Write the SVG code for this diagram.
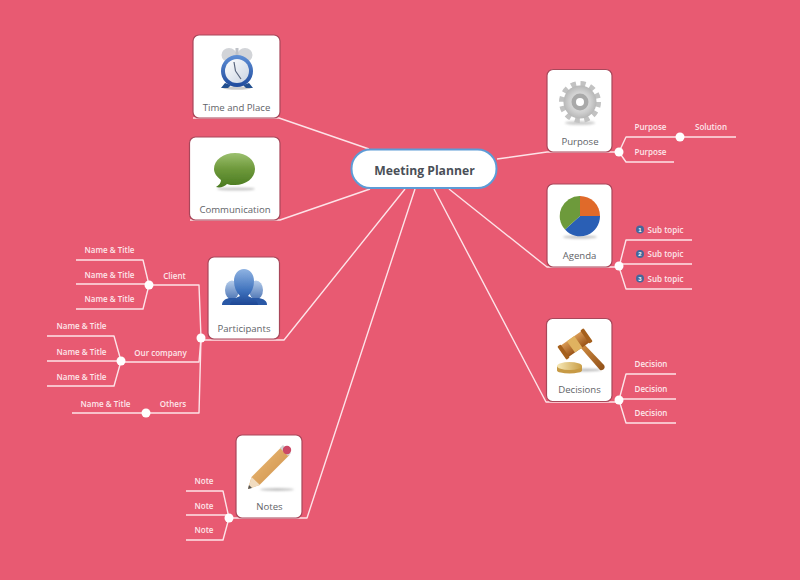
<svg xmlns="http://www.w3.org/2000/svg" width="800" height="580" viewBox="0 0 800 580">
<style>
.box{fill:#fff;stroke:#a8475a;stroke-width:1.2}
.lab{font-family:"Open Sans","Liberation Sans",sans-serif;font-size:9.6px;fill:#5f6368;text-anchor:middle}
.sub{font-family:"Open Sans","Liberation Sans",sans-serif;font-size:8px;font-weight:600;fill:#fde6ea;text-anchor:middle}
.ln{fill:none;stroke:#fde3e8;stroke-width:1.4;stroke-linejoin:round}
.dot{fill:#fff}
.num{fill:#44689b}
.numt{font-family:"Liberation Sans",sans-serif;font-size:6px;font-weight:700;fill:#fff;text-anchor:middle}
.ic{filter:url(#soft)}
</style>
<defs>
<filter id="soft" x="-10%" y="-10%" width="120%" height="120%"><feGaussianBlur stdDeviation="0.5"/></filter>
<filter id="shade" x="-20%" y="-200%" width="140%" height="500%"><feGaussianBlur stdDeviation="1.2"/></filter>
<linearGradient id="blue" x1="0" y1="0" x2="0" y2="1"><stop offset="0" stop-color="#5f8fd6"/><stop offset="1" stop-color="#1f4a9c"/></linearGradient>
<linearGradient id="face" x1="0" y1="0" x2="1" y2="1"><stop offset="0" stop-color="#ffffff"/><stop offset="1" stop-color="#c9d3e2"/></linearGradient>
<linearGradient id="green" x1="0" y1="0" x2="0" y2="1"><stop offset="0" stop-color="#9cc06f"/><stop offset="0.45" stop-color="#6f9a3c"/><stop offset="1" stop-color="#4a7a20"/></linearGradient>
<radialGradient id="gear" cx="0.5" cy="0.5" r="0.55"><stop offset="0" stop-color="#f0f0f0"/><stop offset="0.6" stop-color="#cfcfcf"/><stop offset="1" stop-color="#b0b0b0"/></radialGradient>
<linearGradient id="wood" x1="0" y1="0" x2="1" y2="1"><stop offset="0" stop-color="#d38f43"/><stop offset="1" stop-color="#8f4f18"/></linearGradient>
<linearGradient id="head" x1="0" y1="0" x2="0" y2="1"><stop offset="0" stop-color="#d99a55"/><stop offset="1" stop-color="#9a5418"/></linearGradient>
<linearGradient id="gold" x1="0" y1="0" x2="1" y2="0"><stop offset="0" stop-color="#f7e9b8"/><stop offset="1" stop-color="#c99d45"/></linearGradient>
<linearGradient id="people" x1="0" y1="0" x2="0" y2="1"><stop offset="0" stop-color="#8fb3e2"/><stop offset="0.6" stop-color="#3f72bd"/><stop offset="1" stop-color="#1d4694"/></linearGradient>
<linearGradient id="people2" x1="0" y1="0" x2="0" y2="1"><stop offset="0" stop-color="#a9c4e8"/><stop offset="1" stop-color="#2f5ea8"/></linearGradient>
<linearGradient id="pen" x1="0" y1="0" x2="1" y2="1"><stop offset="0" stop-color="#f0c07e"/><stop offset="1" stop-color="#c98a42"/></linearGradient>
</defs>
<rect width="800" height="580" fill="#e85a72"/>
<g id="connectors">
<path class="ln" d="M193 118H279L369 149"/>
<path class="ln" d="M370 189L280 220H190"/>
<path class="ln" d="M405 189L284 340H203"/>
<path class="ln" d="M415 189L307 518H230"/>
<path class="ln" d="M497 159L547 152H619"/>
<path class="ln" d="M449 189L547 267H619"/>
<path class="ln" d="M434 189L546 402H619"/>
<path class="ln" d="M619 152L626 137H736M619 152L626 162H674"/>
<path class="ln" d="M619 267L626 240H692M619 264H692M619 267L626 289H692"/>
<path class="ln" d="M619 400L626 374H676M619 399H676M619 400L626 423H676"/>
<path class="ln" d="M201 338L199 285H149M149 285L143 260H76M149 284H76M149 285L143 309H76"/>
<path class="ln" d="M201 338L199 362H121M121 361L114 336H47M121 361H47M121 361L114 386H47"/>
<path class="ln" d="M201 338L199 413H72"/>
<path class="ln" d="M229 518L223 491H186M229 515H186M229 518L223 540H186"/>
</g>
<g id="dots">
<circle class="dot" cx="680" cy="137" r="4.5"/><circle class="dot" cx="619" cy="152" r="4.5"/>
<circle class="dot" cx="619" cy="266" r="4.5"/><circle class="dot" cx="619" cy="400" r="4.5"/>
<circle class="dot" cx="149" cy="285" r="4.5"/><circle class="dot" cx="201" cy="338" r="4.5"/>
<circle class="dot" cx="121" cy="361" r="4.5"/><circle class="dot" cx="146" cy="413" r="4.5"/>
<circle class="dot" cx="229" cy="518" r="4.5"/>
</g>
<g id="center">
<rect x="351.500" y="149.500" width="145" height="38.500" rx="19" fill="#fff" stroke="#5d9bd6" stroke-width="2"/>
<text x="424.500" y="174.500" text-anchor="middle" font-family="'Open Sans','Liberation Sans',sans-serif" font-size="12.200" font-weight="700" fill="#4a4f57">Meeting Planner</text>
</g>
<g id="time-and-place">
<rect class="box" x="193" y="35" width="87" height="83" rx="6"/>
<g class="ic">
<ellipse cx="237" cy="88" rx="14" ry="1.800" fill="#ccc"/>
<ellipse cx="229" cy="55" rx="7.500" ry="7" fill="#d2d4d8"/><ellipse cx="245" cy="55" rx="7.500" ry="7" fill="#d2d4d8"/>
<rect x="235.500" y="48" width="3" height="8" fill="#bfc2c8"/>
<path d="M225 83l-4 5h7l3-3zM249 83l4 5h-7l-3-3z" fill="#24508f"/>
<circle cx="237" cy="71" r="16" fill="url(#blue)"/><circle cx="237" cy="71" r="12" fill="url(#face)"/>
<path d="M235.500 71l-1.500-9M235.500 71l5.500 8" stroke="#59657c" stroke-width="1.200" fill="none"/>
</g>
<text class="lab" x="236.500" y="110.500">Time and Place</text>
</g>
<g id="communication">
<rect class="box" x="189.500" y="137" width="90.500" height="83" rx="6"/>
<ellipse cx="236" cy="189" rx="19" ry="1.600" fill="#c9c9c9" filter="url(#shade)"/>
<path class="ic" d="M235 153c12 0 20 7 20 16s-9 16-20 16c-3 0-6 0-8-1c-3 3-7 4-11 3c3-2 5-4 5-7c-4-3-7-7-7-11c0-9 9-16 21-16z" fill="url(#green)"/>
<text class="lab" x="235" y="212.500">Communication</text>
</g>
<g id="participants">
<rect class="box" x="208" y="257" width="71.500" height="82" rx="6"/>
<g class="ic">
<ellipse cx="232" cy="290" rx="7" ry="9.500" fill="url(#people2)" opacity="0.85"/>
<ellipse cx="256" cy="290" rx="7" ry="9.500" fill="url(#people2)" opacity="0.85"/>
<path d="M222 305c0-4 3-6 7-7h30c5 1 8 3 8 7z" fill="#2a58a6"/>
<path d="M230 305c0-5 6-7 10-9c-4-4-6-9-6-15c0-7 4-12 10-12s10 5 10 12c0 6-2 11-6 15c4 2 10 4 10 9z" fill="url(#people)"/>
</g>
<text class="lab" x="244" y="331.500">Participants</text>
</g>
<g id="notes">
<rect class="box" x="236" y="435" width="66" height="83" rx="6"/>
<ellipse cx="277" cy="489.500" rx="17" ry="1.400" fill="#c4c4c4" filter="url(#shade)"/>
<g class="ic">
<path d="M248 489l3.500-12l30-30l8 8l-30 30z" fill="url(#pen)"/>
<path d="M248 489l3.500-12l8.500 8z" fill="#f1dcc0"/><path d="M248 489l1-4l3 3z" fill="#555"/>
<path d="M280 448l8 8l3-3l-8-8z" fill="#d2d2d2"/><circle cx="287" cy="450" r="4.200" fill="#cb4a66"/>
</g>
<text class="lab" x="269.500" y="510">Notes</text>
</g>
<g id="purpose">
<rect class="box" x="547" y="69.500" width="65" height="82.500" rx="6"/>
<ellipse cx="580" cy="123" rx="15" ry="2" fill="#cfcfcf" filter="url(#shade)"/>
<g class="ic">
<circle cx="580" cy="102" r="18" fill="none" stroke="#c2c2c2" stroke-width="6" stroke-dasharray="5 4.420"/>
<circle cx="580" cy="102" r="16.500" fill="url(#gear)"/>
<circle cx="580" cy="102" r="8.500" fill="#a9a9a9"/><circle cx="580" cy="102" r="4" fill="#fff"/>
</g>
<text class="lab" x="580" y="144.500">Purpose</text>
</g>
<g id="agenda">
<rect class="box" x="547" y="184" width="65" height="83" rx="6"/>
<ellipse cx="580" cy="237" rx="17" ry="1.800" fill="#c9c9c9" filter="url(#shade)"/>
<g class="ic">
<path d="M580 216V196a20 20 0 0 1 20 20z" fill="#e06a2a"/>
<path d="M580 216h20a20 20 0 0 1-35 13.500z" fill="#2b5fb5"/>
<path d="M580 216l-15 13.500a20 20 0 0 1 15-33.500z" fill="#6d9a3a"/>
</g>
<text class="lab" x="579.500" y="259">Agenda</text>
</g>
<g id="decisions">
<rect class="box" x="546.500" y="318.500" width="65.500" height="83" rx="6"/>
<ellipse cx="586" cy="370" rx="15" ry="1.500" fill="#bdbdbd" filter="url(#shade)"/>
<g class="ic">
<path d="M580 347l3-4l21 22c2 3-1 6-4 5z" fill="url(#wood)"/>
<g transform="rotate(-35 575 344)">
<rect x="562" y="337" width="26" height="14" rx="1" fill="url(#head)"/>
<rect x="570" y="337" width="9" height="14" fill="#e0b260"/>
<rect x="559" y="336" width="4" height="16" rx="1" fill="#a5601f"/>
<rect x="587" y="336" width="4" height="16" rx="1" fill="#a5601f"/>
</g>
<rect x="557" y="366" width="25" height="4.500" fill="#c79a45"/>
<ellipse cx="569.500" cy="370.500" rx="12.500" ry="3" fill="#c79a45"/>
<ellipse cx="569.500" cy="366" rx="12.500" ry="4" fill="url(#gold)"/>
</g>
<text class="lab" x="579.500" y="393">Decisions</text>
</g>
<g id="labels">
<text class="sub" x="650.500" y="130">Purpose</text><text class="sub" x="711" y="130">Solution</text><text class="sub" x="650.500" y="155">Purpose</text>
<circle class="num" cx="640" cy="229.500" r="4"/><text class="numt" x="640" y="231.700">1</text><text class="sub" x="665.500" y="233">Sub topic</text>
<circle class="num" cx="640" cy="254" r="4"/><text class="numt" x="640" y="256.200">2</text><text class="sub" x="665.500" y="257">Sub topic</text>
<circle class="num" cx="640" cy="278.500" r="4"/><text class="numt" x="640" y="280.700">3</text><text class="sub" x="665.500" y="282">Sub topic</text>
<text class="sub" x="651" y="367">Decision</text><text class="sub" x="651" y="392">Decision</text><text class="sub" x="651" y="416">Decision</text>
<text class="sub" x="109.500" y="252.500">Name &amp; Title</text><text class="sub" x="109.500" y="277.500">Name &amp; Title</text><text class="sub" x="109.500" y="301.500">Name &amp; Title</text>
<text class="sub" x="174.500" y="278.500">Client</text>
<text class="sub" x="81.500" y="329">Name &amp; Title</text><text class="sub" x="81.500" y="354.500">Name &amp; Title</text><text class="sub" x="81.500" y="379.500">Name &amp; Title</text>
<text class="sub" x="160.500" y="355.500">Our company</text>
<text class="sub" x="105.500" y="406.500">Name &amp; Title</text><text class="sub" x="173" y="406.500">Others</text>
<text class="sub" x="204" y="484">Note</text><text class="sub" x="204" y="509">Note</text><text class="sub" x="204" y="533">Note</text>
</g>
</svg>
